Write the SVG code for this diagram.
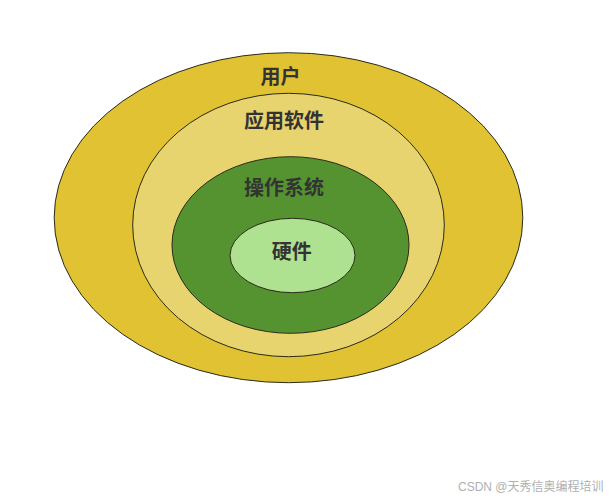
<svg xmlns="http://www.w3.org/2000/svg" width="611" height="500" viewBox="0 0 611 500">
<style>
.ring{stroke:#2a2a1a;stroke-width:1}
.lbl{font-family:"Noto Sans CJK SC","Noto Sans",sans-serif;font-weight:bold;font-size:20px;fill:#333;text-anchor:middle;dominant-baseline:central}
.wm{font-family:"Liberation Sans","Noto Sans CJK SC",sans-serif;font-size:12px;fill:#b0b0b0}
</style>
<rect width="611" height="500" fill="#fff"/>
<g id="user"><ellipse class="ring" cx="288.5" cy="217.7" rx="234.3" ry="165" fill="#E0C233"/><text class="lbl" x="280.5" y="75">用户</text></g>
<g id="app"><ellipse class="ring" cx="288.5" cy="225" rx="155.8" ry="131.7" fill="#E8D46F"/><text class="lbl" x="284" y="119">应用软件</text></g>
<g id="os"><ellipse class="ring" cx="290.5" cy="245" rx="118.5" ry="88.3" fill="#559331"/><text class="lbl" x="284" y="186">操作系统</text></g>
<g id="hw"><ellipse class="ring" cx="292.5" cy="255.5" rx="62.5" ry="37.2" fill="#AEE190"/><text class="lbl" x="291.7" y="250">硬件</text></g>
<g id="connectors"/>
<text class="wm" x="458" y="491">CSDN @天秀信奥编程培训</text>
</svg>
